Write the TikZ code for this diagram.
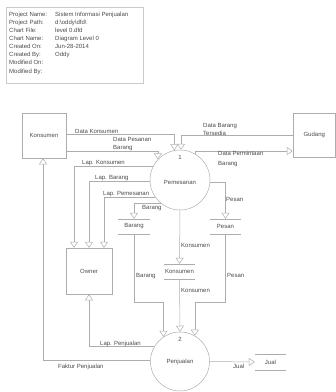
\documentclass[tikz,border=0pt]{standalone}
\usepackage{fontspec}
\setmainfont{Liberation Sans}
\usetikzlibrary{arrows.meta,calc}
\definecolor{linegray}{HTML}{ADADAD}
\definecolor{boxgray}{HTML}{CACACA}
\definecolor{txtgray}{HTML}{4A4A4A}
\begin{document}
\begin{tikzpicture}[x=1pt,y=-1pt,
  font=\fontsize{6}{7.5}\selectfont, text=txtgray,
  box/.style={draw=linegray, line width=0.5pt, inner sep=0pt},
  proc/.style={circle, draw=linegray, line width=0.5pt, inner sep=0pt},
  store/.style={minimum width=31pt, minimum height=15pt, inner sep=0pt},
  storeline/.style={draw=linegray, line width=0.5pt},
  flow/.style={draw=linegray, line width=0.5pt, -{Triangle[open, length=6pt, width=8pt, fill=white]}},
  lbl/.style={inner sep=0pt, anchor=base west},
  tag/.style={inner sep=0pt}]
\useasboundingbox (0,0) rectangle (336,392);

% project info
\node[box, draw=boxgray, minimum width=137pt, minimum height=76pt, anchor=north west] (info) at (6,7) {};
\node[anchor=north west, inner sep=0pt, font=\fontsize{6}{8.1}\selectfont] (infotext) at (9,10.5)
 {\begin{tabular}{@{}p{44pt}@{\hspace{2pt}}l@{}}
 Project Name: & Sistem Informasi Penjualan\\
 Project Path: & d:\textbackslash oddy\textbackslash dfd\textbackslash\\
 Chart File: & level 0.dfd\\
 Chart Name: & Diagram Level 0\\
 Created On: & Jun-28-2014\\
 Created By: & Oddy\\
 Modified On: & \\
 Modified By: & \\
 \end{tabular}};

% entities
\node[box, minimum width=44pt, minimum height=45pt] (kons) at (44,135.5) {Konsumen};
\node[box, minimum width=42.5pt, minimum height=44pt] (gud) at (314.25,135) {Gudang};
\node[box, minimum width=46pt, minimum height=46pt] (owner) at (89,271) {Owner};

% processes
\node[proc, minimum size=60pt] (pem) at (180,180) {};
\node[tag] (pemnum) at (180,157) {1};
\node[tag] (pemname) at (180,182) {Pemesanan};
\node[proc, minimum size=59pt] (pen) at (180,361.5) {};
\node[tag] (pennum) at (180,339) {2};
\node[tag] (penname) at (180,362) {Penjualan};

% data stores
\node[store] (sbar) at (134,226.5) {Barang};
\node[store] (spes) at (225.5,226.5) {Pesan};
\node[store] (skon) at (179.5,271.5) {Konsumen};
\node[store, minimum height=16pt] (sjual) at (270.5,362) {Jual};
\foreach \s in {sbar,spes,skon,sjual}{
  \draw[storeline] (\s.north west) -- (\s.north east) (\s.south west) -- (\s.south east);
}

% flows
\draw[flow] (kons.east |- 0,134) -| (pem.101.5);
\draw[flow] (gud.west) -| (pem.88);
\draw[flow] (kons.east |- 0,151) -| (pem.137);
\draw[flow] (pem.60) |- (gud.west |- 0,151);
\draw[flow] (pem.152) -| (owner.north -| 74,0);
\draw[flow] (pem.182) -| (owner.north);
\draw[flow] (pem.214.5) -| (owner.north -| 104,0);
\draw[flow] (pem.230) -| (sbar.north);
\draw[flow] (pem.356) -| (spes.north);
\draw[flow] (pem.south) -- (skon.north);
\draw[flow] (sbar.south) -- (sbar.south |- 0,302) -| (pen.124);
\draw[flow] (skon.south) -- (pen.north);
\draw[flow] (spes.south) -- (spes.south |- 0,302) -| (pen.60);
\draw[flow] (pen.150) -| (owner.south);
\draw[flow] (pen.178) -| (kons.south -| 43,0);
\draw[flow] (pen.east) -- (sjual.west);

% flow labels
\node[lbl] (l1) at (75,133) {Data Konsumen};
\node[lbl] (l2a) at (113,141) {Data Pesanan};
\node[lbl] (l2b) at (113,149) {Barang};
\node[lbl] (l3a) at (203,127) {Data Barang};
\node[lbl] (l3b) at (203,135) {Tersedia};
\node[lbl] (l4a) at (218,155) {Data Permintaan};
\node[lbl] (l4b) at (218,165) {Barang};
\node[lbl] (l5) at (82,164) {Lap. Konsumen};
\node[lbl] (l6) at (95,179) {Lap. Barang};
\node[lbl] (l7) at (103,195) {Lap. Pemesanan};
\node[lbl] (l8) at (142,209) {Barang};
\node[lbl] (l9) at (226,201) {Pesan};
\node[lbl] (l10) at (181,247) {Konsumen};
\node[lbl] (l11) at (136,277) {Barang};
\node[lbl] (l12) at (227,277) {Pesan};
\node[lbl] (l13) at (181,292) {Konsumen};
\node[lbl] (l14) at (100,345) {Lap. Penjualan};
\node[lbl] (l15) at (58,368) {Faktur Penjualan};
\node[lbl] (l16) at (233,368) {Jual};
\end{tikzpicture}
\end{document}
